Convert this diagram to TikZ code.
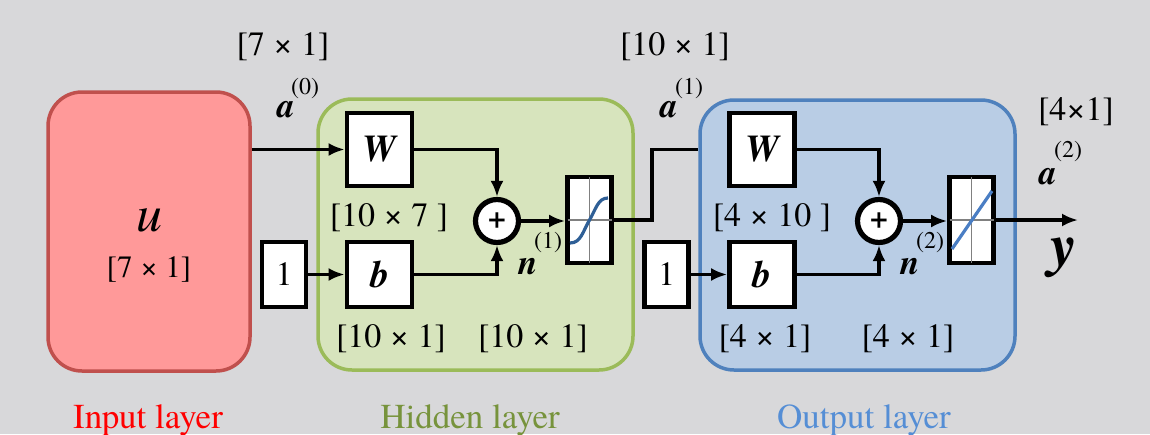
\documentclass[tikz,border=0pt]{standalone}
\usepackage{fontspec}
\setmainfont{texgyretermes}[Extension=.otf, UprightFont=*-regular, BoldFont=*-bold, ItalicFont=*-italic, BoldItalicFont=*-bolditalic]
\usetikzlibrary{arrows.meta}

\definecolor{bggray}{HTML}{D8D8DA}
\definecolor{inpfill}{HTML}{FF9999}
\definecolor{inpline}{HTML}{C0504D}
\definecolor{hidfill}{HTML}{D7E4BD}
\definecolor{hidline}{HTML}{9BBB59}
\definecolor{outfill}{HTML}{B9CDE5}
\definecolor{outborder}{HTML}{4F81BD}
\definecolor{hidtext}{HTML}{77933C}
\definecolor{outtext}{HTML}{558ED5}
\definecolor{sigcurve}{HTML}{2F5F96}
\definecolor{lincurve}{HTML}{4A7EC4}

\newcommand{\fsz}[1]{\fontsize{#1}{#1}\selectfont}

\tikzset{
	layer/.style={rounded corners=17pt, line width=1.75pt, inner sep=0pt},
	blk/.style={draw=black, fill=white, line width=2.4pt, inner sep=0pt},
	wbox/.style={blk, minimum width=32.5pt, minimum height=36.5pt, font=\fsz{19}\bfseries\itshape},
	bbox/.style={blk, minimum width=32.5pt, minimum height=32.5pt, font=\fsz{19}\bfseries\itshape},
	onebox/.style={blk, minimum width=22pt, minimum height=32.5pt, font=\fsz{17}},
	actbox/.style={blk, minimum width=22pt, minimum height=43pt},
	sumnode/.style={blk, line width=2.6pt, shape=circle, minimum size=21.5pt, font=\fsz{16}\bfseries},
	grid/.style={gray, line width=0.7pt, shorten >=1.2pt, shorten <=1.2pt},
	wire/.style={line width=1.8pt},
	arr/.style={wire, -{Latex[length=8pt,width=6.5pt]}},
	dim/.style={font=\fsz{17}, inner sep=0pt},
	sup/.style={font=\fsz{12}, inner sep=0pt},
	sym/.style={font=\fsz{17.5}\bfseries\itshape, inner sep=0pt},
	lbl/.style={font=\fsz{17.5}, inner sep=0pt, anchor=base},
}

\begin{document}
\begin{tikzpicture}[x=0.5pt, y=-0.5pt]
	
	\fill[bggray] (0,0) rectangle (1150,434);
	\useasboundingbox (0,0) rectangle (1150,434);
	
	% layers
	\node[layer, draw=inpline, fill=inpfill, minimum width=101pt, minimum height=139.5pt] (inp) at (149, 231.5) {};
	\node[layer, draw=hidline, fill=hidfill, minimum width=157.5pt, minimum height=135.5pt] (hid) at (475.5, 234.5) {};
	\node[layer, draw=outborder, fill=outfill, minimum width=157.5pt, minimum height=135pt] (outl) at (857.5, 235) {};
	
	\node[font=\fsz{26}\itshape, inner sep=0pt] (u) at (149, 220) {u};
	\node[font=\fsz{15.5}, inner sep=0pt] (udim) at (149, 269) {[7 × 1]};
	
	% hidden layer blocks
	\node[wbox] (W1) at (379.5, 149.5) {W};
	\node[bbox] (b1) at (379.5, 274.5) {b};
	\node[onebox] (one1) at (284, 274.5) {1};
	\node[sumnode] (sum1) at (497, 221) {+};
	\node[actbox] (sig) at (589.5, 220) {};
	\draw[grid] (sig.north) -- (sig.south);
	\draw[grid] (sig.west) -- (sig.east);
	\draw[sigcurve, line width=1.6pt] (570,243) .. controls (581,243) and (583,231) .. (589.5,220) .. controls (596,209) and (598,198) .. (608,198);
	
	% output layer blocks
	\node[wbox] (W2) at (762, 149.5) {W};
	\node[bbox] (b2) at (762, 274.5) {b};
	\node[onebox] (one2) at (666.5, 274.5) {1};
	\node[sumnode] (sum2) at (879, 221) {+};
	\node[actbox] (lin) at (971.5, 220) {};
	\draw[grid] (lin.north) -- (lin.south);
	\draw[grid] (lin.west) -- (lin.east);
	\draw[lincurve, line width=1.6pt] (952,249) -- (992,191);
	
	% connections
	\draw[arr] (inp.east |- W1) -- (W1.west);
	\draw[arr] (one1.east) -- (b1.west);
	\draw[arr] (W1.east) -| (sum1.north);
	\draw[arr] (b1.east) -| (sum1.south);
	\draw[arr] (sum1.east) -- (sum1.east -| sig.west);
	
	\coordinate (jog) at (652, 220);
	\draw[wire] (sig.east) -- (jog) |- (outl.west |- W2);
	
	\draw[arr] (one2.east) -- (b2.west);
	\draw[arr] (W2.east) -| (sum2.north);
	\draw[arr] (b2.east) -| (sum2.south);
	\draw[arr] (sum2.east) -- (sum2.east -| lin.west);
	\coordinate (yend) at (1078, 220);
	\draw[arr] (lin.east) -- (yend);
	
	% signal labels
	\node[dim] (d0) at (283, 47) {[7 × 1]};
	\node[sym] (a0) at (286, 110) {a};
	\node[sup] (a0s) at (305, 89) {(0)};
	\node[dim] (d1) at (675, 47) {[10 × 1]};
	\node[sym] (a1) at (669, 110) {a};
	\node[sup] (a1s) at (689, 89) {(1)};
	\node[dim] (d2) at (1076, 112) {[4×1]};
	\node[sym] (a2) at (1048, 177) {a};
	\node[sup] (a2s) at (1068, 152) {(2)};
	\node[font=\fsz{30}\bfseries\itshape, inner sep=0pt] (y) at (1064, 258) {y};
	
	\node[sym] (n1) at (528, 267) {n};
	\node[sup] (n1s) at (548, 243) {(1)};
	\node[sym] (n2) at (910, 267) {n};
	\node[sup] (n2s) at (930, 243) {(2)};
	
	% sizes
	\node[dim] (dW1) at (389, 218) {[10 × 7 ]};
	\node[dim] (db1) at (391, 339) {[10 × 1]};
	\node[dim] (dn1) at (533, 339) {[10 × 1]};
	\node[dim] (dW2) at (772, 218) {[4 × 10 ]};
	\node[dim] (db2) at (765, 339) {[4 × 1]};
	\node[dim] (dn2) at (908, 339) {[4 × 1]};
	
	% layer names
	\node[lbl, text=red] (linp) at (148, 428) {Input layer};
	\node[lbl, text=hidtext] (lhid) at (470, 428) {Hidden layer};
	\node[lbl, text=outtext] (lout) at (864, 428) {Output layer};
	
\end{tikzpicture}
\end{document}
